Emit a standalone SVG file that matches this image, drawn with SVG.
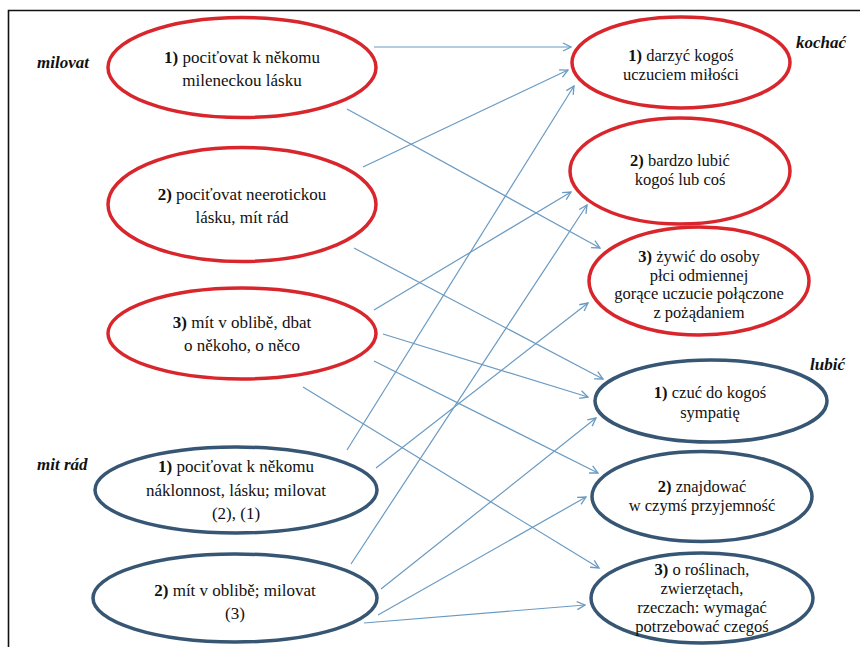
<svg xmlns="http://www.w3.org/2000/svg" width="860" height="647" viewBox="0 0 860 647">
<defs>
<marker id="arr" markerWidth="10" markerHeight="10" refX="9" refY="5" orient="auto" markerUnits="userSpaceOnUse">
<path d="M1,1 L9,5 L1,9" fill="none" stroke="#6a9ac2" stroke-width="1.3"/>
</marker>
</defs>
<style>
.red{fill:#fff;stroke:#d8262c;stroke-width:3.5}
.blu{fill:#fff;stroke:#365674;stroke-width:3.5}
.t{font-family:"Liberation Serif","Times New Roman",serif;font-size:17px;fill:#111;text-anchor:middle}
.r{font-size:16.5px}
.lab{font-family:"Liberation Serif","Times New Roman",serif;font-size:17px;font-weight:bold;font-style:italic;fill:#111}
.c{stroke:#6a9ac2;stroke-width:1.2;fill:none;marker-end:url(#arr)}
</style>
<rect width="860" height="647" fill="#fff"/>
<path d="M8.5,647 V10.5 H860" fill="none" stroke="#111" stroke-width="1.6"/>

<g id="connectors">
<line class="c" x1="374" y1="47" x2="571" y2="47"/>
<line class="c" x1="347" y1="109" x2="600" y2="248"/>
<line class="c" x1="363" y1="167" x2="568" y2="70"/>
<line class="c" x1="354" y1="248" x2="603" y2="379"/>
<line class="c" x1="374" y1="310" x2="571" y2="192"/>
<line class="c" x1="383" y1="334" x2="588" y2="397"/>
<line class="c" x1="374" y1="361" x2="598" y2="473"/>
<line class="c" x1="303" y1="387" x2="599" y2="568"/>
<line class="c" x1="347" y1="450" x2="574" y2="86"/>
<line class="c" x1="376" y1="468" x2="588" y2="303"/>
<line class="c" x1="351" y1="564" x2="587" y2="205"/>
<line class="c" x1="381" y1="589" x2="596" y2="418"/>
<line class="c" x1="378" y1="615" x2="586" y2="497"/>
<line class="c" x1="364" y1="623" x2="585" y2="605"/>
</g>

<g id="label-milovat"><text class="lab" x="37" y="68">milovat</text></g>
<g id="label-mit-rad"><text class="lab" x="37" y="470">mit rád</text></g>
<g id="label-kochac"><text class="lab" x="796" y="48">kochać</text></g>
<g id="label-lubic"><text class="lab" x="810" y="370">lubić</text></g>

<g id="milovat-1">
<ellipse class="red" cx="242" cy="67.5" rx="134" ry="50"/>
<text class="t" x="242" y="63"><tspan font-weight="bold">1)</tspan> pociťovat k někomu</text>
<text class="t" x="242" y="86">mileneckou lásku</text>
</g>
<g id="milovat-2">
<ellipse class="red" cx="242" cy="204.5" rx="134" ry="57"/>
<text class="t" x="242" y="200"><tspan font-weight="bold">2)</tspan> pociťovat neerotickou</text>
<text class="t" x="242" y="223">lásku, mít rád</text>
</g>
<g id="milovat-3">
<ellipse class="red" cx="242" cy="333.5" rx="134" ry="45.5"/>
<text class="t" x="242" y="328"><tspan font-weight="bold">3)</tspan> mít v oblibě, dbat</text>
<text class="t" x="242" y="351">o někoho, o něco</text>
</g>
<g id="mit-rad-1">
<ellipse class="blu" cx="236" cy="490" rx="141" ry="43"/>
<text class="t" x="236" y="472"><tspan font-weight="bold">1)</tspan> pociťovat k někomu</text>
<text class="t" x="236" y="496">náklonnost, lásku; milovat</text>
<text class="t" x="236" y="519">(2), (1)</text>
</g>
<g id="mit-rad-2">
<ellipse class="blu" cx="235" cy="598" rx="142" ry="44"/>
<text class="t" x="235" y="596"><tspan font-weight="bold">2)</tspan> mít v oblibě; milovat</text>
<text class="t" x="235" y="619">(3)</text>
</g>

<g id="kochac-1">
<ellipse class="red" cx="681" cy="62.5" rx="109" ry="45.5"/>
<text class="t r" x="681" y="61"><tspan font-weight="bold">1)</tspan> darzyć kogoś</text>
<text class="t r" x="681" y="80">uczuciem miłości</text>
</g>
<g id="kochac-2">
<ellipse class="red" cx="680" cy="171" rx="110" ry="53"/>
<text class="t r" x="680" y="166"><tspan font-weight="bold">2)</tspan> bardzo lubić</text>
<text class="t r" x="680" y="185">kogoś lub coś</text>
</g>
<g id="kochac-3">
<ellipse class="red" cx="699" cy="281" rx="110" ry="54"/>
<text class="t r" x="699" y="262"><tspan font-weight="bold">3)</tspan> żywić do osoby</text>
<text class="t r" x="699" y="281">płci odmiennej</text>
<text class="t r" x="699" y="299">gorące uczucie połączone</text>
<text class="t r" x="699" y="318">z pożądaniem</text>
</g>
<g id="lubic-1">
<ellipse class="blu" cx="711" cy="401" rx="116" ry="41"/>
<text class="t r" x="710" y="398"><tspan font-weight="bold">1)</tspan> czuć do kogoś</text>
<text class="t r" x="710" y="418">sympatię</text>
</g>
<g id="lubic-2">
<ellipse class="blu" cx="702" cy="496.5" rx="110" ry="45"/>
<text class="t r" x="702" y="492"><tspan font-weight="bold">2)</tspan> znajdować</text>
<text class="t r" x="702" y="511">w czymś przyjemność</text>
</g>
<g id="lubic-3">
<ellipse class="blu" cx="702" cy="598" rx="111" ry="45"/>
<text class="t r" x="702" y="575"><tspan font-weight="bold">3)</tspan> o roślinach,</text>
<text class="t r" x="702" y="594">zwierzętach,</text>
<text class="t r" x="702" y="613">rzeczach: wymagać</text>
<text class="t r" x="702" y="632">potrzebować czegoś</text>
</g>
</svg>
